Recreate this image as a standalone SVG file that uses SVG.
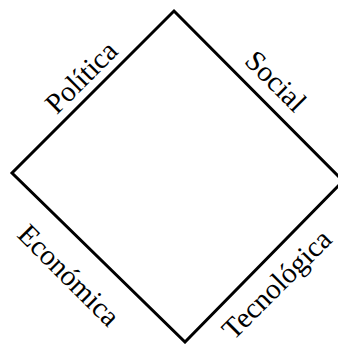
<svg xmlns="http://www.w3.org/2000/svg" width="338" height="344" viewBox="0 0 338 344">
<style>
.lbl{font-family:"Liberation Serif","Times New Roman",serif;font-size:29px;fill:#000;text-anchor:middle}
.edge{fill:none;stroke:#000;stroke-width:3;stroke-linejoin:miter}
</style>
<rect width="338" height="344" fill="#fff"/>
<g id="connectors">
<path class="edge" d="M174,11 L343,181 L185,342 L12,173 Z"/>
</g>
<g id="politica"><text class="lbl" transform="translate(88,84) rotate(-45)">Política</text></g>
<g id="social"><text class="lbl" transform="translate(269,88) rotate(45)">Social</text></g>
<g id="economica"><text class="lbl" transform="translate(62,282) rotate(45)">Económica</text></g>
<g id="tecnologica"><text class="lbl" transform="translate(283.5,291) rotate(-45)">Tecnológica</text></g>
</svg>
